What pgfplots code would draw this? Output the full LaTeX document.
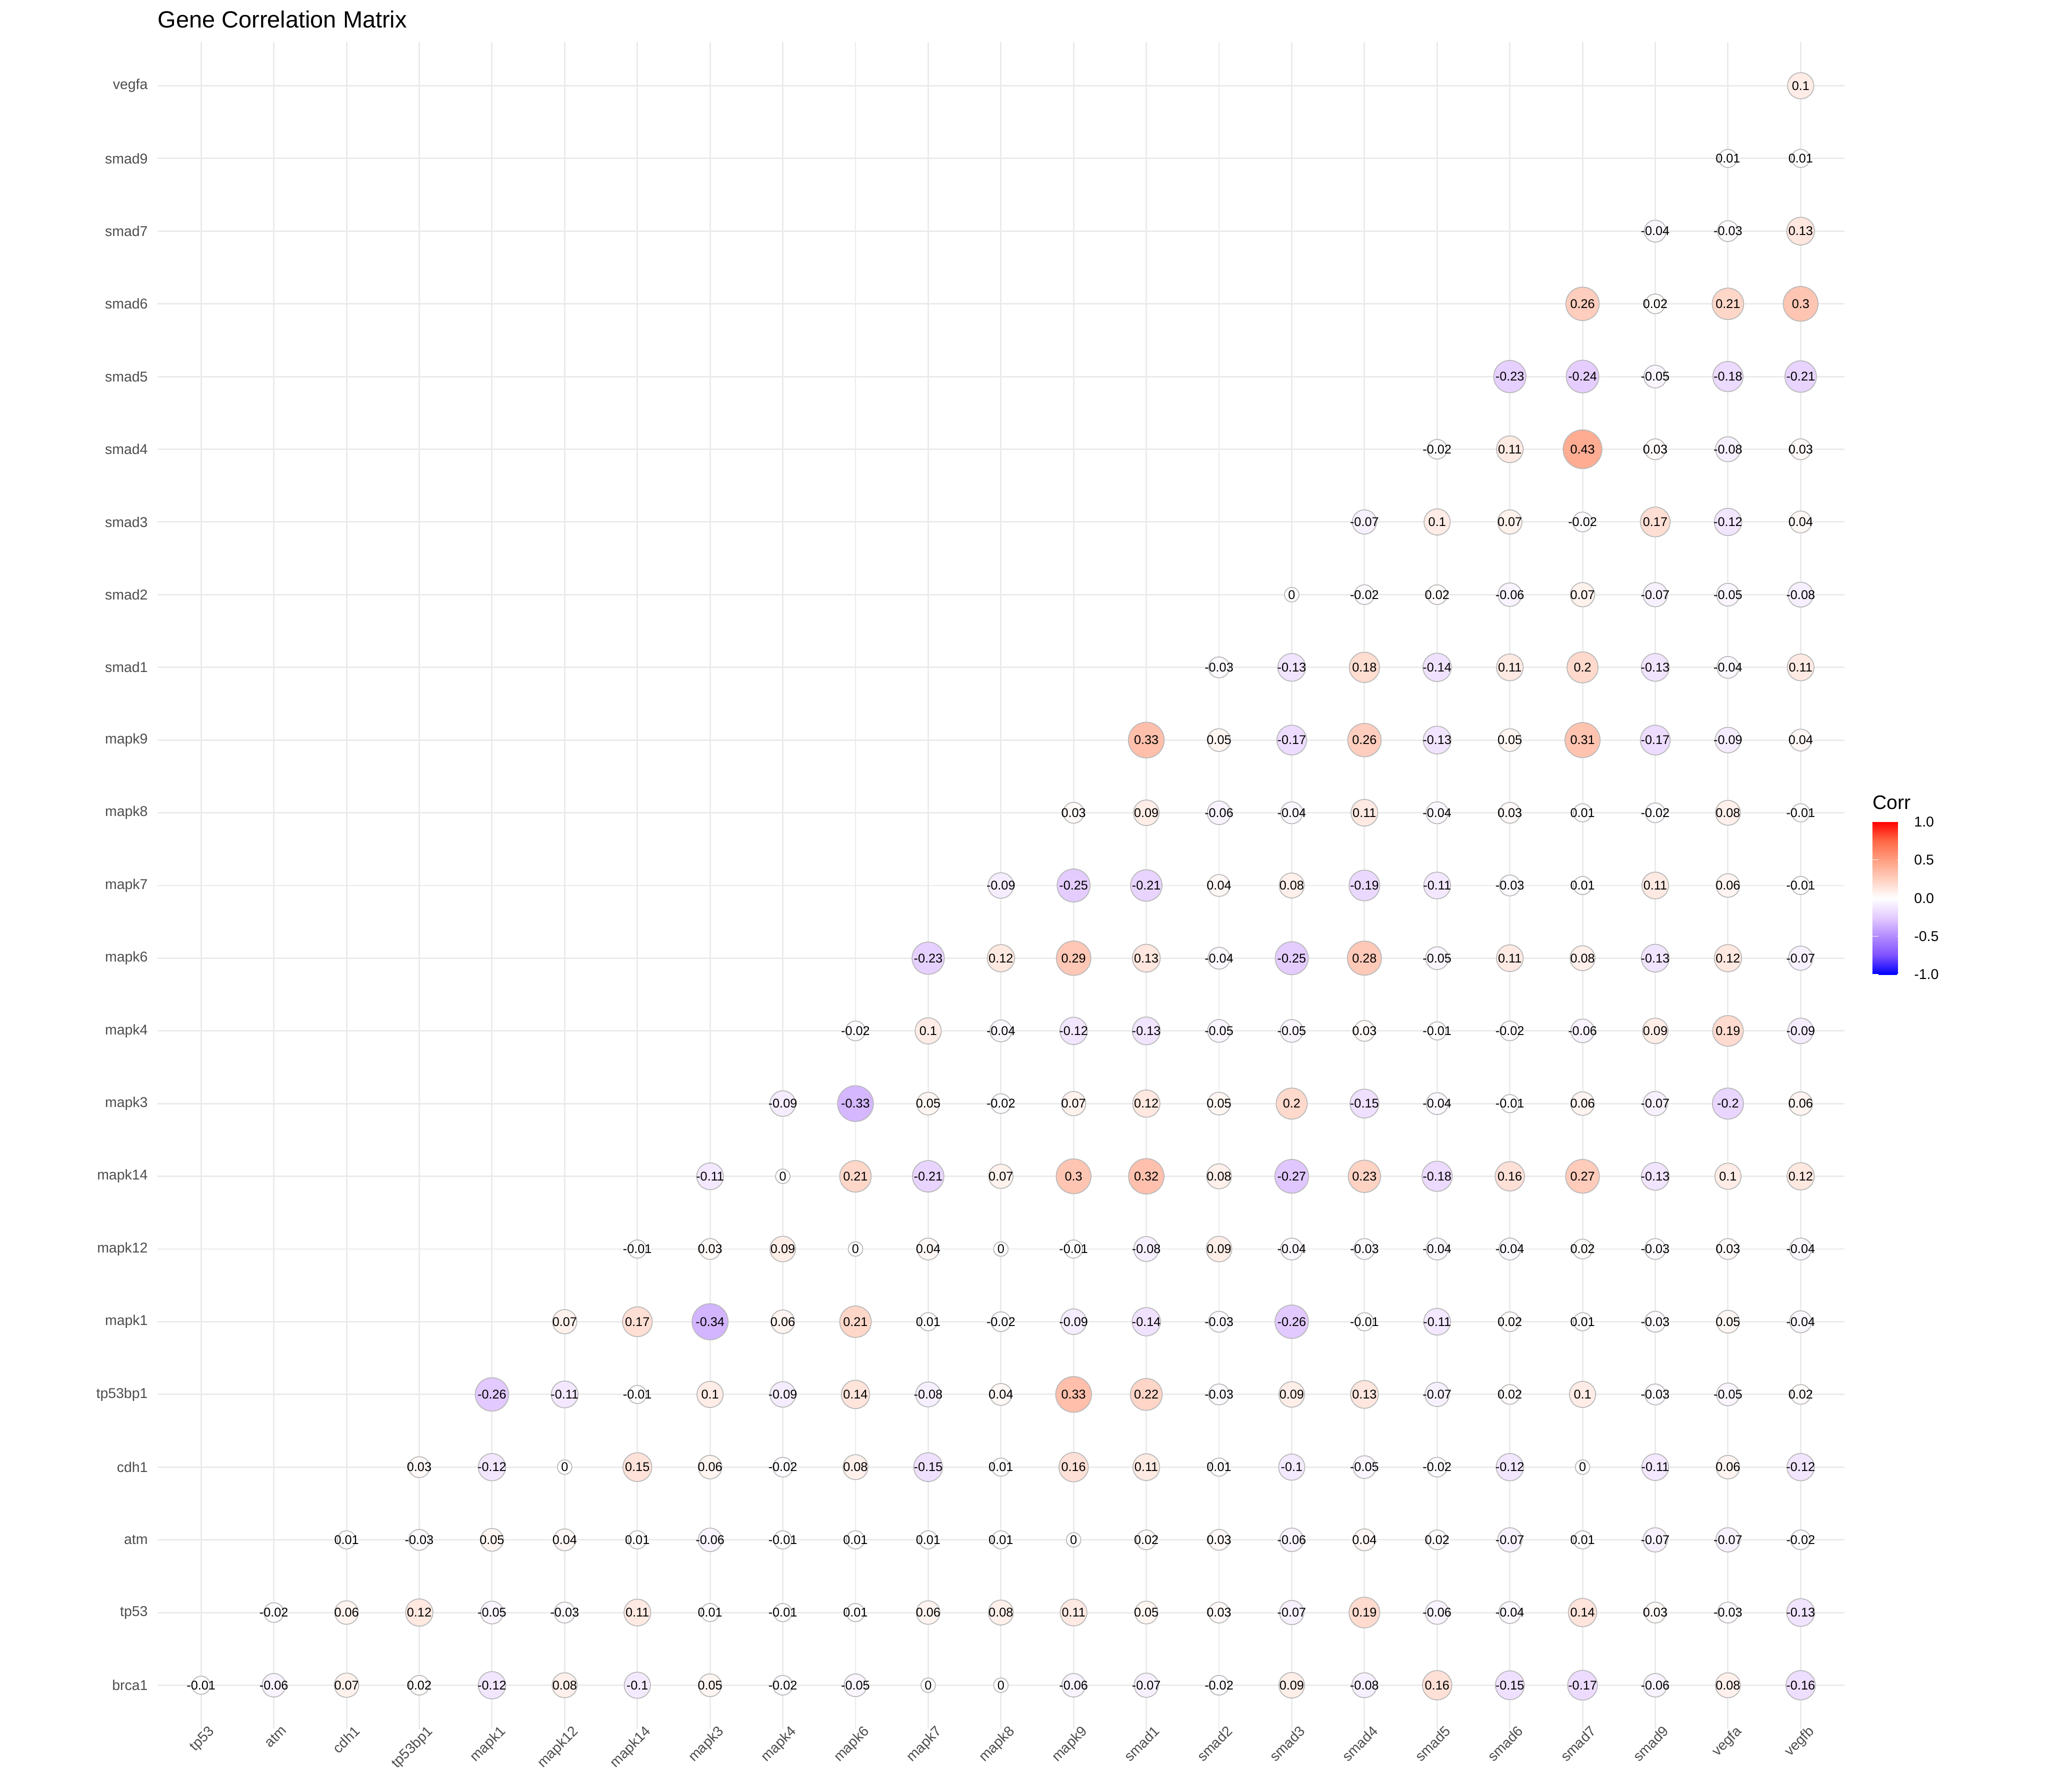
\documentclass[border=0pt]{standalone}
\usepackage{pgfplots}
\pgfplotsset{compat=1.18}
\usepackage{fontspec}
\setmainfont{Liberation Sans}
\usepackage{pgfplotstable}
\definecolor{gridc}{RGB}{235,235,235}
\definecolor{tickc}{RGB}{77,77,77}
\definecolor{outl}{RGB}{185,185,185}
\pgfplotstableread[row sep=\\]{
x y c\\
0 0 -0.01\\ 1 0 -0.06\\ 2 0 0.07\\ 3 0 0.02\\ 4 0 -0.12\\ 5 0 0.08\\ 6 0 -0.1\\ 7 0 0.05\\ 8 0 -0.02\\ 9 0 -0.05\\ 10 0 0\\ 11 0 0\\ 12 0 -0.06\\ 13 0 -0.07\\ 14 0 -0.02\\ 15 0 0.09\\ 16 0 -0.08\\ 17 0 0.16\\ 18 0 -0.15\\ 19 0 -0.17\\ 20 0 -0.06\\ 21 0 0.08\\ 22 0 -0.16\\
1 1 -0.02\\ 2 1 0.06\\ 3 1 0.12\\ 4 1 -0.05\\ 5 1 -0.03\\ 6 1 0.11\\ 7 1 0.01\\ 8 1 -0.01\\ 9 1 0.01\\ 10 1 0.06\\ 11 1 0.08\\ 12 1 0.11\\ 13 1 0.05\\ 14 1 0.03\\ 15 1 -0.07\\ 16 1 0.19\\ 17 1 -0.06\\ 18 1 -0.04\\ 19 1 0.14\\ 20 1 0.03\\ 21 1 -0.03\\ 22 1 -0.13\\
2 2 0.01\\ 3 2 -0.03\\ 4 2 0.05\\ 5 2 0.04\\ 6 2 0.01\\ 7 2 -0.06\\ 8 2 -0.01\\ 9 2 0.01\\ 10 2 0.01\\ 11 2 0.01\\ 12 2 0\\ 13 2 0.02\\ 14 2 0.03\\ 15 2 -0.06\\ 16 2 0.04\\ 17 2 0.02\\ 18 2 -0.07\\ 19 2 0.01\\ 20 2 -0.07\\ 21 2 -0.07\\ 22 2 -0.02\\
3 3 0.03\\ 4 3 -0.12\\ 5 3 0\\ 6 3 0.15\\ 7 3 0.06\\ 8 3 -0.02\\ 9 3 0.08\\ 10 3 -0.15\\ 11 3 0.01\\ 12 3 0.16\\ 13 3 0.11\\ 14 3 0.01\\ 15 3 -0.1\\ 16 3 -0.05\\ 17 3 -0.02\\ 18 3 -0.12\\ 19 3 0\\ 20 3 -0.11\\ 21 3 0.06\\ 22 3 -0.12\\
4 4 -0.26\\ 5 4 -0.11\\ 6 4 -0.01\\ 7 4 0.1\\ 8 4 -0.09\\ 9 4 0.14\\ 10 4 -0.08\\ 11 4 0.04\\ 12 4 0.33\\ 13 4 0.22\\ 14 4 -0.03\\ 15 4 0.09\\ 16 4 0.13\\ 17 4 -0.07\\ 18 4 0.02\\ 19 4 0.1\\ 20 4 -0.03\\ 21 4 -0.05\\ 22 4 0.02\\
5 5 0.07\\ 6 5 0.17\\ 7 5 -0.34\\ 8 5 0.06\\ 9 5 0.21\\ 10 5 0.01\\ 11 5 -0.02\\ 12 5 -0.09\\ 13 5 -0.14\\ 14 5 -0.03\\ 15 5 -0.26\\ 16 5 -0.01\\ 17 5 -0.11\\ 18 5 0.02\\ 19 5 0.01\\ 20 5 -0.03\\ 21 5 0.05\\ 22 5 -0.04\\
6 6 -0.01\\ 7 6 0.03\\ 8 6 0.09\\ 9 6 0\\ 10 6 0.04\\ 11 6 0\\ 12 6 -0.01\\ 13 6 -0.08\\ 14 6 0.09\\ 15 6 -0.04\\ 16 6 -0.03\\ 17 6 -0.04\\ 18 6 -0.04\\ 19 6 0.02\\ 20 6 -0.03\\ 21 6 0.03\\ 22 6 -0.04\\
7 7 -0.11\\ 8 7 0\\ 9 7 0.21\\ 10 7 -0.21\\ 11 7 0.07\\ 12 7 0.3\\ 13 7 0.32\\ 14 7 0.08\\ 15 7 -0.27\\ 16 7 0.23\\ 17 7 -0.18\\ 18 7 0.16\\ 19 7 0.27\\ 20 7 -0.13\\ 21 7 0.1\\ 22 7 0.12\\
8 8 -0.09\\ 9 8 -0.33\\ 10 8 0.05\\ 11 8 -0.02\\ 12 8 0.07\\ 13 8 0.12\\ 14 8 0.05\\ 15 8 0.2\\ 16 8 -0.15\\ 17 8 -0.04\\ 18 8 -0.01\\ 19 8 0.06\\ 20 8 -0.07\\ 21 8 -0.2\\ 22 8 0.06\\
9 9 -0.02\\ 10 9 0.1\\ 11 9 -0.04\\ 12 9 -0.12\\ 13 9 -0.13\\ 14 9 -0.05\\ 15 9 -0.05\\ 16 9 0.03\\ 17 9 -0.01\\ 18 9 -0.02\\ 19 9 -0.06\\ 20 9 0.09\\ 21 9 0.19\\ 22 9 -0.09\\
10 10 -0.23\\ 11 10 0.12\\ 12 10 0.29\\ 13 10 0.13\\ 14 10 -0.04\\ 15 10 -0.25\\ 16 10 0.28\\ 17 10 -0.05\\ 18 10 0.11\\ 19 10 0.08\\ 20 10 -0.13\\ 21 10 0.12\\ 22 10 -0.07\\
11 11 -0.09\\ 12 11 -0.25\\ 13 11 -0.21\\ 14 11 0.04\\ 15 11 0.08\\ 16 11 -0.19\\ 17 11 -0.11\\ 18 11 -0.03\\ 19 11 0.01\\ 20 11 0.11\\ 21 11 0.06\\ 22 11 -0.01\\
12 12 0.03\\ 13 12 0.09\\ 14 12 -0.06\\ 15 12 -0.04\\ 16 12 0.11\\ 17 12 -0.04\\ 18 12 0.03\\ 19 12 0.01\\ 20 12 -0.02\\ 21 12 0.08\\ 22 12 -0.01\\
13 13 0.33\\ 14 13 0.05\\ 15 13 -0.17\\ 16 13 0.26\\ 17 13 -0.13\\ 18 13 0.05\\ 19 13 0.31\\ 20 13 -0.17\\ 21 13 -0.09\\ 22 13 0.04\\
14 14 -0.03\\ 15 14 -0.13\\ 16 14 0.18\\ 17 14 -0.14\\ 18 14 0.11\\ 19 14 0.2\\ 20 14 -0.13\\ 21 14 -0.04\\ 22 14 0.11\\
15 15 0\\ 16 15 -0.02\\ 17 15 0.02\\ 18 15 -0.06\\ 19 15 0.07\\ 20 15 -0.07\\ 21 15 -0.05\\ 22 15 -0.08\\
16 16 -0.07\\ 17 16 0.1\\ 18 16 0.07\\ 19 16 -0.02\\ 20 16 0.17\\ 21 16 -0.12\\ 22 16 0.04\\
17 17 -0.02\\ 18 17 0.11\\ 19 17 0.43\\ 20 17 0.03\\ 21 17 -0.08\\ 22 17 0.03\\
18 18 -0.23\\ 19 18 -0.24\\ 20 18 -0.05\\ 21 18 -0.18\\ 22 18 -0.21\\
19 19 0.26\\ 20 19 0.02\\ 21 19 0.21\\ 22 19 0.3\\
20 20 -0.04\\ 21 20 -0.03\\ 22 20 0.13\\
21 21 0.01\\ 22 21 0.01\\
22 22 0.1\\
}\corrtable
\begin{document}
\begin{tikzpicture}
\path[use as bounding box] (0,0) rectangle (1152pt,1008pt);
\begin{axis}[
  at={(88.6pt,35.5pt)}, anchor=south west,
  scale only axis, width=948.8pt, height=948.8pt,
  xmin=-0.6, xmax=22.6, ymin=-0.6, ymax=22.6,
  xtick={0,...,22}, ytick={0,...,22},
  xticklabels={tp53,atm,cdh1,tp53bp1,mapk1,mapk12,mapk14,mapk3,mapk4,mapk6,mapk7,mapk8,mapk9,smad1,smad2,smad3,smad4,smad5,smad6,smad7,smad9,vegfa,vegfb},
  yticklabels={brca1,tp53,atm,cdh1,tp53bp1,mapk1,mapk12,mapk14,mapk3,mapk4,mapk6,mapk7,mapk8,mapk9,smad1,smad2,smad3,smad4,smad5,smad6,smad7,smad9,vegfa},
  axis line style={draw=none}, major tick length=0pt, tick style={draw=none},
  grid=major, major grid style={gridc, line width=0.8pt},
  xticklabel style={rotate=45, anchor=north east, inner sep=0pt, font=\fontsize{8}{9.6}\selectfont, text=tickc, xshift=4.5pt, yshift=-1pt},
  yticklabel style={anchor=east, inner sep=0pt, xshift=-5.3pt, font=\fontsize{8}{9.6}\selectfont, text=tickc},
  title={Gene Correlation Matrix},
  title style={at={(0,1)}, anchor=base west, inner sep=0pt, yshift=2.1pt, font=\fontsize{13.2}{15}\selectfont},
  colormap={corr}{rgb255=(0,0,255) rgb255=(126,81,255) rgb255=(179,139,255) rgb255=(228,204,255) rgb255=(255,255,255) rgb255=(255,207,191) rgb255=(255,158,129) rgb255=(255,104,70) rgb255=(255,0,0)},
  point meta min=-1, point meta max=1,
  colorbar,
  colorbar style={
    scale only axis, width=17.3pt, height=86pt,
    at={(parent axis.south east)}, anchor=south west, xshift=7.3pt, yshift=424.3pt,
    axis line style={draw=none},
    ytick={-1,-0.5,0,0.5,1}, yticklabels={-1.0,-0.5,0.0,0.5,1.0},
    tick align=inside, major tick length=3.4pt, tick style={white, line width=0.4pt},
    ytick pos=both, yticklabel pos=right,
    yticklabel style={font=\fontsize{8}{9.6}\selectfont, text=black, anchor=west, inner sep=0pt, xshift=6pt},
    title={Corr},
    title style={at={(0,1)}, anchor=base west, inner sep=0pt, yshift=0.9pt, font=\fontsize{11}{13}\selectfont},
  },
]
\addplot[
  scatter, only marks, mark=*,
  point meta=explicit,
  scatter/use mapped color={draw=outl, fill=mapped color, line width=0.5pt},
  visualization depends on={4.07+10.44*sqrt(abs(\thisrow{c})) \as \rad},
  scatter/@pre marker code/.append style={/tikz/mark size=\rad pt},
] table[x=x, y=y, meta=c] {\corrtable};
\addplot[
  only marks, mark=*, mark size=0pt, mark options={draw=none, fill=none},
  point meta=explicit symbolic,
  nodes near coords={\pgfplotspointmeta},
  nodes near coords align=center,
  every node near coord/.append style={text=black, font=\fontsize{7.1}{8}\selectfont, inner sep=0pt, anchor=center},
] table[x=x, y=y, meta=c] {\corrtable};
\end{axis}
\end{tikzpicture}
\end{document}
